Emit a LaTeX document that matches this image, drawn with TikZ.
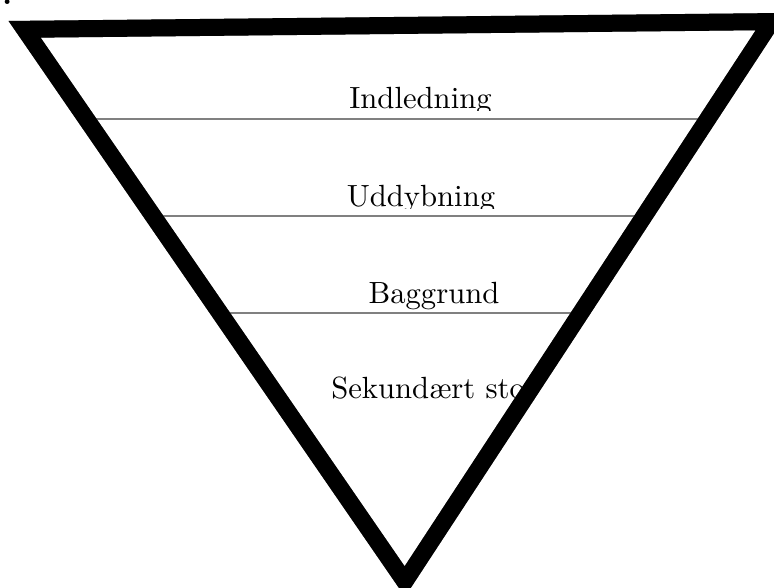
\documentclass[tikz,border=0pt]{standalone}
\usepackage{fontspec}
\setmainfont{lmroman10-regular.otf}[BoldFont=lmroman10-bold.otf]
\begin{document}
\begin{tikzpicture}[x=0.75pt,y=-0.75pt,
  tekst/.style={font=\fontsize{23}{27}\selectfont,inner sep=0pt,anchor=base},
  skille/.style={draw=gray,line width=0.8pt},
  kant/.style={line width=12.75pt,line join=miter}]
\useasboundingbox (0,0) rectangle (774,587);

\node[font=\fontsize{23}{27}\selectfont\bfseries,inner sep=0pt,anchor=base east] (nr) at (12.5,4.5) {1.};

% hjoerner (midt i kanten)
\coordinate (vo) at (24.6,29.3);
\coordinate (ho) at (771.5,21.6);
\coordinate (bund) at (404.8,581.5);

% skillelinjer
\draw[skille] (86.1,119) -- (708.1,119);
\draw[skille] (152.8,216) -- (644.7,216);
\draw[skille] (219.5,313) -- (581.3,313);

\begin{scope}
\clip (0,0) rectangle (774,110);
\node[tekst] (indledning) at (420.5,108) {Indledning};
\end{scope}
\begin{scope}
\clip (0,0) rectangle (774,208);
\node[tekst] (uddybning) at (421,206) {Uddybning};
\end{scope}
\node[tekst] (baggrund) at (434,303) {Baggrund};
\node[tekst,anchor=base west] (sekundaert) at (331,398) {Sekundært stof};

% trekant
\draw[gray,kant,shift={(-1,-1.5)}] (vo) -- (ho) -- (bund) -- cycle;
\draw[black,kant] (vo) -- (ho) -- (bund) -- cycle;
\end{tikzpicture}
\end{document}
